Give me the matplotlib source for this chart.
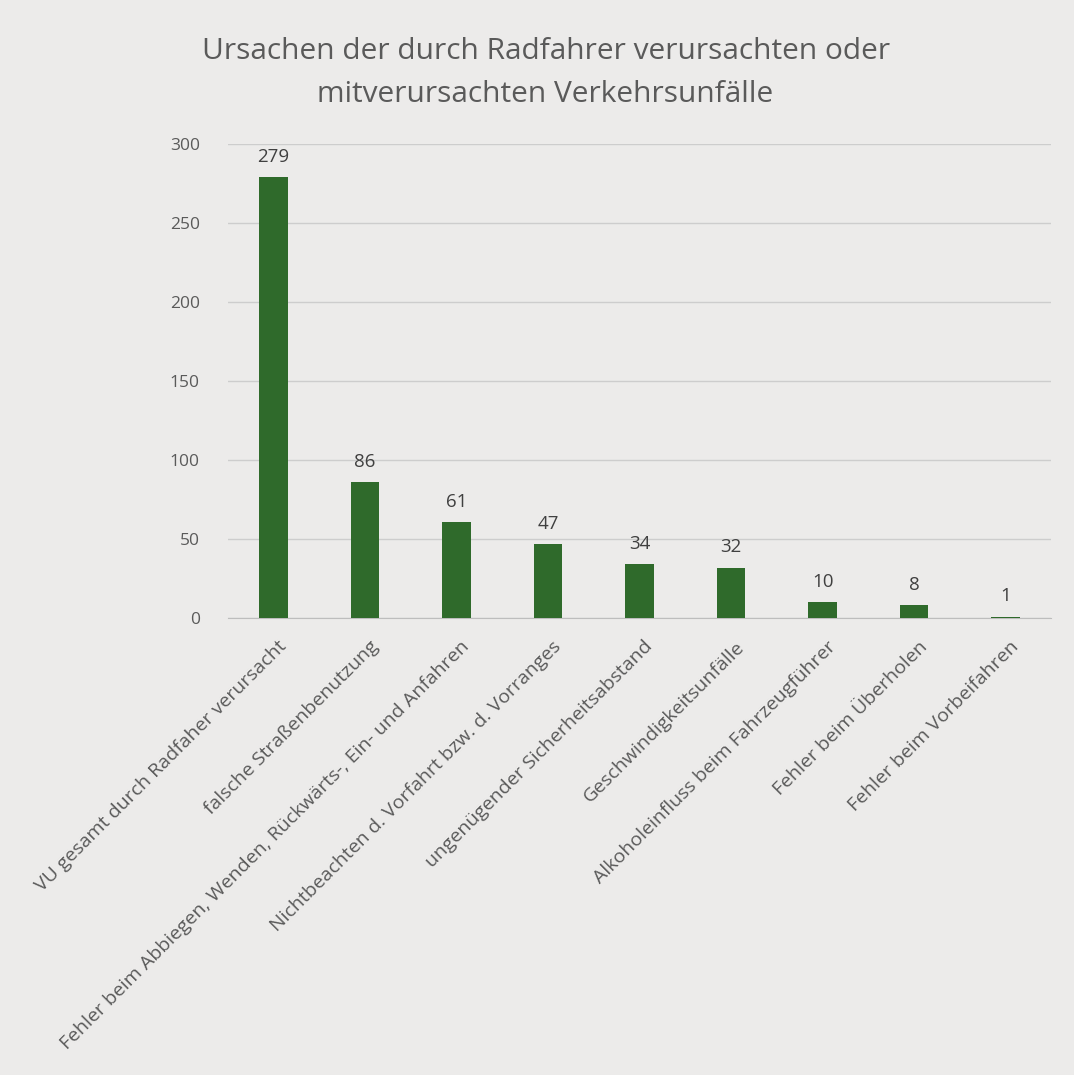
import matplotlib.pyplot as plt
from matplotlib.transforms import ScaledTranslation

# Werte aus dem Diagramm
ursachen = ['VU gesamt durch Radfaher verursacht',
            'falsche Straßenbenutzung',
            'Fehler beim Abbiegen, Wenden, Rückwärts-, Ein- und Anfahren',
            'Nichtbeachten d. Vorfahrt bzw. d. Vorranges',
            'ungenügender Sicherheitsabstand',
            'Geschwindigkeitsunfälle',
            'Alkoholeinfluss beim Fahrzeugführer',
            'Fehler beim Überholen',
            'Fehler beim Vorbeifahren']
anzahl = [279, 86, 61, 47, 34, 32, 10, 8, 1]
yticks = [0, 50, 100, 150, 200, 250, 300]

plt.rcParams['font.family'] = ['Open Sans', 'DejaVu Sans']
hintergrund = '#ecebea'
textfarbe = '#5a5a5a'

fig = plt.figure(figsize=(10.74, 10.75), dpi=100, facecolor=hintergrund)
ax = fig.add_axes([0.212, 0.425, 0.767, 0.441], facecolor=hintergrund)

x = range(len(anzahl))
ax.bar(x, anzahl, width=0.31, color='#2f6a2b', zorder=3)
for xi, wert in zip(x, anzahl):
    ax.text(xi, wert + 7, str(wert), ha='center', va='bottom',
            fontsize=13.5, color='#404040')

ax.set_xlim(-0.5, len(anzahl) - 0.5)
ax.set_ylim(0, 300)
ax.set_yticks(yticks)
ax.tick_params(axis='y', length=0, labelsize=12.5, labelcolor=textfarbe, pad=20)
ax.tick_params(axis='x', length=0, pad=14)
ax.set_xticks(list(x))
ax.set_xticklabels(ursachen, rotation=45, ha='right', rotation_mode='anchor',
                   fontsize=14, color=textfarbe)
# Beschriftung etwas nach rechts schieben
verschiebung = ScaledTranslation(4 / 100, 0, fig.dpi_scale_trans)
for lab in ax.get_xticklabels():
    lab.set_transform(lab.get_transform() + verschiebung)

ax.grid(axis='y', color='#cdcdcd', linewidth=1, zorder=0)
for s in ['top', 'right', 'left']:
    ax.spines[s].set_visible(False)
ax.spines['bottom'].set_color('#bdbdbd')

fig.text(0.508, 0.932, 'Ursachen der durch Radfahrer verursachten oder\nmitverursachten Verkehrsunfälle',
         ha='center', va='center', fontsize=21.5, color=textfarbe, linespacing=1.6)

plt.savefig('out.png', dpi=100, facecolor=hintergrund)
